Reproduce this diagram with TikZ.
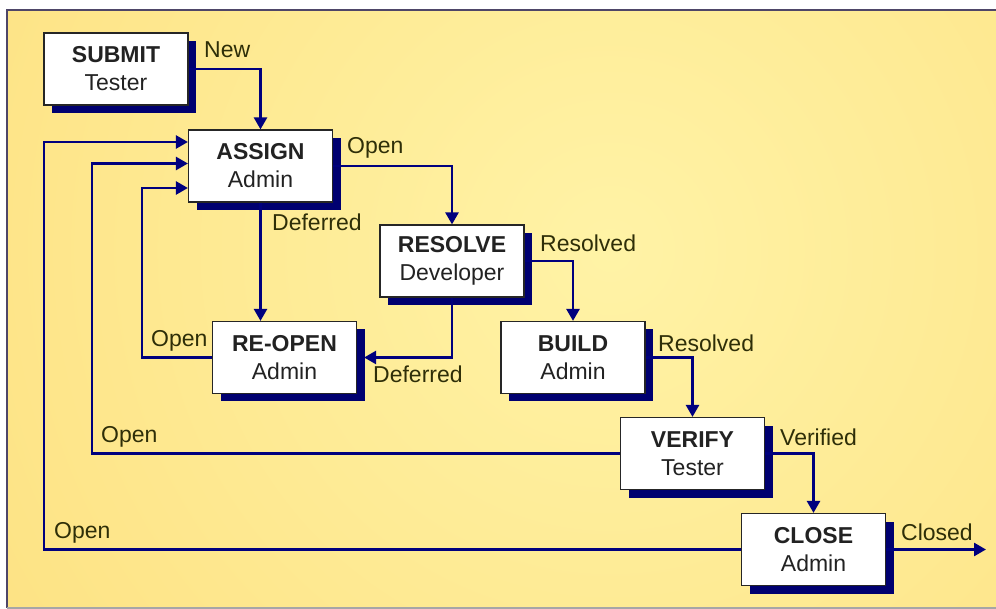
\documentclass[tikz,border=0pt]{standalone}
\usepackage{fontspec}
\setmainfont{Liberation Sans}
\usetikzlibrary{arrows.meta,shadows}
\definecolor{navy}{HTML}{00007E}
\definecolor{shadowblue}{HTML}{000070}
\definecolor{bglight}{HTML}{FFF3A6}
\definecolor{bgdark}{HTML}{FDE07F}
\definecolor{framecol}{HTML}{4E4668}
\definecolor{lblcol}{HTML}{2E2E08}
\definecolor{boxtext}{HTML}{222222}
\begin{document}
\begin{tikzpicture}[x=1pt,y=-1pt,
  state/.style={draw=black!85, line width=1.2pt, fill=white,
    minimum width=144pt, minimum height=72pt, inner sep=0pt, align=center,
    text=boxtext, font=\fontsize{23}{28}\selectfont,
    drop shadow={shadow xshift=8pt, shadow yshift=-8pt, fill=shadowblue, opacity=1}},
  flow/.style={draw=navy, line width=2.6pt, -{Triangle[length=12pt,width=13pt]}},
  lbl/.style={text=lblcol, font=\fontsize{23}{28}\selectfont, inner sep=0pt, anchor=west}]
\useasboundingbox (0,0) rectangle (996,609);
% panel
\fill[white] (0,0) rectangle (996,609);
\begin{scope}
  \clip (7,10) rectangle (996,608);
  \fill[bgdark] (7,10) rectangle (996,608);
  \shade[inner color=bglight, outer color=bgdark] (610,250) circle (820);
\end{scope}
\draw[framecol, line width=2pt] (996,10) -- (7,10) -- (7,608);
\draw[black!35, line width=1.5pt] (7,608) -- (996,608);
% states
\node[state] (submit) at (116,69) {\bfseries SUBMIT\\Tester};
\node[state] (assign) at (260.5,166) {\bfseries ASSIGN\\Admin};
\node[state] (resolve) at (452,261) {\bfseries RESOLVE\\Developer};
\node[state] (reopen) at (284.5,357.5) {\bfseries RE-OPEN\\Admin};
\node[state] (build) at (573,357.5) {\bfseries BUILD\\Admin};
\node[state] (verify) at (692.5,453.5) {\bfseries VERIFY\\Tester};
\node[state] (close) at (813.5,549.5) {\bfseries CLOSE\\Admin};
% helper coordinates
\coordinate (r1) at (142,188);
\coordinate (v1) at (92,163.5);
\coordinate (c1) at (44,142);
\coordinate (closedend) at (986,549.5);
% connectors
\draw[flow] (submit.east) -| (assign.north);
\draw[flow] (assign.east) -| (resolve.north);
\draw[flow] (assign.south) -- (assign.south |- reopen.north);
\draw[flow] (resolve.east) -| (build.north);
\draw[flow] (resolve.south) |- ([xshift=7pt]reopen.east);
\draw[flow] (build.east) -| (verify.north);
\draw[flow] (verify.east) -| (close.north);
\draw[flow] (close.east) -- (closedend);
\draw[flow] (reopen.west) -| (r1) -- (r1 -| assign.west);
\draw[flow] (verify.west) -| (v1) -- (v1 -| assign.west);
\draw[flow] (close.west) -| (c1) -- (c1 -| assign.west);
% labels
\node[lbl] (lnew) at (204,50) {New};
\node[lbl] (lopen1) at (347,148) {Open};
\node[lbl] (ldef1) at (272,222) {Deferred};
\node[lbl] (lres1) at (540,243) {Resolved};
\node[lbl] (ldef2) at (373,374) {Deferred};
\node[lbl] (lopen2) at (151,341) {Open};
\node[lbl] (lres2) at (658,343) {Resolved};
\node[lbl] (lopen3) at (101,437) {Open};
\node[lbl] (lver) at (780,437) {Verified};
\node[lbl] (lopen4) at (54,533) {Open};
\node[lbl] (lclosed) at (901,532) {Closed};
\end{tikzpicture}
\end{document}
